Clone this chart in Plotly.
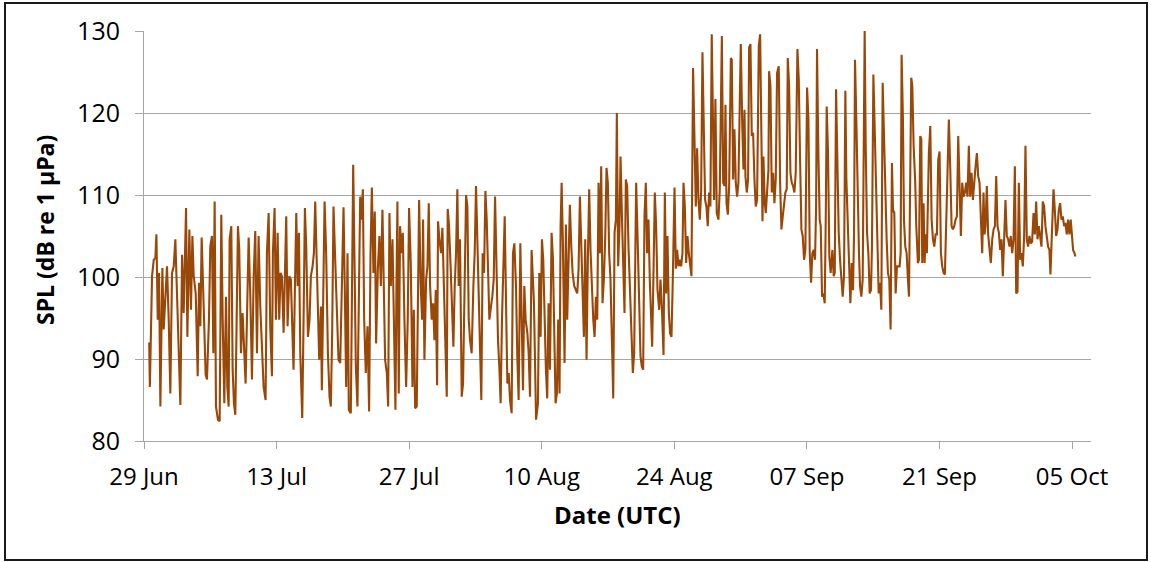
import pandas as pd
import plotly.graph_objects as go

# ---- data ----
start_date = "2013-06-29"
axis_days = 100            # axis span in days
tick_step_days = 14

# time of each sample, in days since 29 Jun 00:00 UTC
day_offset = [
    0.55, 0.62, 0.85, 1.03, 1.20, 1.31, 1.45, 1.59, 1.73, 1.94, 2.08, 2.26, 2.43, 2.61, 2.78, 2.96,
    3.14, 3.31, 3.49, 3.66, 3.84, 4.02, 4.19, 4.44, 4.58, 4.79, 4.96, 5.11, 5.25, 5.46, 5.67, 5.81,
    5.95, 6.09, 6.30, 6.51, 6.65, 6.86, 7.00, 7.18, 7.32, 7.46, 7.60, 7.81, 7.99, 8.16, 8.31, 8.48,
    8.66, 8.80, 8.94, 9.04, 9.22, 9.36, 9.50, 9.64, 9.78, 9.92, 10.06, 10.24, 10.41, 10.59, 10.73,
    10.87, 11.05, 11.22, 11.40, 11.58, 11.75, 11.93, 12.10, 12.28, 12.45, 12.63, 12.84, 12.98, 13.16,
    13.33, 13.51, 13.61, 13.79, 13.93, 14.11, 14.28, 14.42, 14.56, 14.74, 14.88, 15.02, 15.16, 15.34,
    15.51, 15.65, 15.79, 15.94, 16.08, 16.22, 16.36, 16.50, 16.71, 16.85, 16.99, 17.13, 17.31, 17.48,
    17.62, 17.80, 17.94, 18.08, 18.26, 18.50, 18.68, 18.78, 18.92, 19.07, 19.24, 19.42, 19.59, 19.73,
    19.87, 20.01, 20.19, 20.37, 20.54, 20.72,
    20.89, 21.07, 21.21, 21.35, 21.49, 21.63, 21.84, 21.98, 22.09, 22.23, 22.37, 22.54, 22.68, 22.83,
    22.97, 23.11, 23.25, 23.42, 23.60, 23.77, 23.92, 24.06, 24.23, 24.37, 24.51, 24.69, 24.86, 25.01,
    25.18, 25.32, 25.46, 25.64, 25.78, 25.92, 26.06, 26.24, 26.38, 26.55, 26.66, 26.76, 26.90, 27.04,
    27.19, 27.33, 27.50, 27.68, 27.85, 27.99, 28.17, 28.35, 28.49, 28.63, 28.80, 28.94, 29.05, 29.22,
    29.37, 29.47, 29.61, 29.79, 29.93, 30.07, 30.21, 30.38, 30.53, 30.67, 30.81, 30.95, 31.05, 31.19,
    31.37, 31.51, 31.65, 31.79, 31.97, 32.07, 32.21, 32.39, 32.53, 32.67, 32.81, 32.95, 33.09, 33.23,
    33.37, 33.55, 33.69, 33.83, 34.01, 34.15, 34.29, 34.43, 34.60, 34.78, 34.92, 35.06, 35.20, 35.34,
    35.48, 35.62, 35.76, 35.91, 36.05, 36.19, 36.33, 36.47, 36.64, 36.78, 36.93, 37.07, 37.24, 37.38,
    37.52, 37.66, 37.80, 37.94, 38.09, 38.23, 38.37, 38.51, 38.65, 38.82, 38.96, 39.11, 39.28, 39.42,
    39.56, 39.74, 39.88, 40.02, 40.16, 40.30, 40.48, 40.62, 40.76,
    40.93, 41.18, 41.40, 41.60, 41.74, 41.88, 42.02, 42.16, 42.30, 42.44, 42.58, 42.72, 42.87, 43.04,
    43.18, 43.32, 43.46, 43.60, 43.74, 43.88, 43.99, 44.10, 44.24, 44.41, 44.55, 44.69, 44.83, 44.97,
    45.12, 45.26, 45.43, 45.61, 45.75, 45.89, 46.03, 46.17, 46.31, 46.45, 46.59, 46.73, 46.87, 47.01,
    47.15, 47.30, 47.44, 47.58, 47.72, 47.86, 48.00, 48.14, 48.28, 48.42, 48.56, 48.70, 48.84, 48.98,
    49.12, 49.26, 49.44, 49.55, 49.69, 49.83, 49.93, 50.07, 50.21, 50.32, 50.46, 50.60, 50.74, 50.88,
    51.02, 51.16, 51.30, 51.48, 51.62, 51.76, 51.87, 51.97, 52.11, 52.29, 52.43, 52.57, 52.71, 52.85,
    52.99, 53.13, 53.27, 53.41, 53.55, 53.66, 53.80, 53.94, 54.08, 54.22, 54.40, 54.54, 54.71, 54.86,
    55.00, 55.14, 55.28, 55.42, 55.56, 55.70, 55.84, 56.02, 56.16, 56.30, 56.44, 56.58, 56.72, 56.86,
    56.97, 57.11, 57.25, 57.39, 57.53, 57.67, 57.81, 57.98, 58.13, 58.27, 58.41, 58.55, 58.69, 58.83,
    58.97, 59.11, 59.25, 59.39, 59.53, 59.67, 59.81, 59.95, 60.09, 60.20, 60.34, 60.48, 60.66, 60.80,
    61.02, 61.16, 61.30, 61.40, 61.51, 61.65, 61.79, 61.97, 62.07, 62.21, 62.35, 62.49, 62.63, 62.77,
    62.88, 63.02, 63.16, 63.30, 63.41, 63.51, 63.65, 63.79, 63.90, 64.04, 64.18, 64.32, 64.46, 64.60,
    64.74, 64.92, 65.06, 65.20, 65.31, 65.41, 65.55, 65.66, 65.80, 65.94, 66.01, 66.15, 66.29, 66.43,
    66.57, 66.71, 66.85, 67.03, 67.17, 67.31, 67.45, 67.59, 67.73, 67.87, 67.98, 68.12, 68.26, 68.40,
    68.54, 68.68, 68.82, 69.00, 69.14, 69.28, 69.42, 69.56, 69.70, 69.84, 70.02, 70.16, 70.30, 70.44,
    70.58, 70.72, 70.86, 70.97, 71.07, 71.21, 71.35, 71.46, 71.60, 71.74, 71.88, 71.99, 72.09, 72.23,
    72.37, 72.51, 72.69, 72.83, 72.94, 73.08, 73.22, 73.36, 73.50, 73.64, 73.78, 73.92, 74.06, 74.17,
    74.31, 74.45, 74.59, 74.73, 74.87, 74.98, 75.08, 75.22, 75.36, 75.50, 75.61, 75.75, 75.89, 76.10,
    76.21, 76.35, 76.49, 76.63, 76.77, 76.87, 77.02, 77.16, 77.30, 77.44, 77.58, 77.72, 77.86, 78.00,
    78.14, 78.28, 78.42, 78.56, 78.70, 78.84, 78.98, 79.09, 79.23, 79.37, 79.51, 79.65, 79.79, 79.90,
    80.00, 80.14, 80.25, 80.39, 80.53, 80.67, 80.78,
    81.02, 81.13, 81.27, 81.44, 81.55, 81.72, 81.83, 81.97, 82.08, 82.18, 82.32, 82.43, 82.53, 82.67,
    82.88, 83.03, 83.17, 83.31, 83.45, 83.59, 83.73, 83.87, 84.01, 84.15, 84.29, 84.43, 84.57, 84.71,
    84.85, 84.99, 85.14, 85.28, 85.42, 85.56, 85.70, 85.84, 85.98, 86.12, 86.26, 86.40, 86.54, 86.68,
    86.82, 86.96, 87.10, 87.24, 87.39, 87.53, 87.67, 87.81, 87.95, 88.09, 88.23, 88.37, 88.51, 88.65,
    88.76, 88.86, 89.00, 89.14, 89.28, 89.42, 89.57, 89.71, 89.85, 89.99, 90.13, 90.27, 90.41, 90.55,
    90.69, 90.83, 90.97, 91.11, 91.25, 91.39, 91.53, 91.68, 91.82, 91.96, 92.10, 92.24, 92.38, 92.52,
    92.66, 92.80, 92.94, 93.08, 93.22, 93.36, 93.50, 93.64, 93.78, 93.93, 94.07, 94.21, 94.35, 94.49,
    94.63, 94.77, 94.91, 95.05, 95.19, 95.33, 95.47, 95.61, 95.72, 95.82, 95.93, 96.04, 96.18, 96.32,
    96.46, 96.60, 96.74, 96.88, 97.02, 97.16, 97.30, 97.44, 97.58, 97.72, 97.86, 98.00, 98.11, 98.25,
    98.36,
]

# sound pressure level, dB re 1 µPa
spl_db = [
    92.0, 86.6, 100.1, 102.1, 102.3, 105.2, 94.8, 100.5, 84.2, 101.1, 93.6, 98.0, 101.3, 94.8, 85.8, 100.5,
    101.3, 104.6, 98.0, 93.6, 84.4, 102.7, 95.6, 108.4, 92.7, 105.8, 96.0, 105.0, 100.1, 98.0, 87.9, 99.3,
    94.0, 104.8, 95.6, 88.1, 87.5, 94.8, 103.7, 105.0, 90.7, 109.2, 84.2, 82.6, 82.4, 107.6, 94.8, 84.6,
    97.6, 86.6, 84.2, 104.6, 106.2, 88.7, 84.6, 83.2, 94.4, 106.2, 103.3, 90.7, 95.6, 89.5, 87.0,
    94.8, 104.8, 98.0, 87.5, 100.1, 105.6, 90.7, 105.0, 96.4, 92.3, 86.6, 85.0, 102.9, 107.8,
    94.0, 87.9, 102.9, 108.4, 94.8, 105.4, 94.8, 100.5, 100.1, 93.2, 101.7, 107.4, 94.0, 100.1,
    99.7, 94.8, 88.7, 98.9, 107.8, 98.9, 105.4, 90.7, 82.8, 94.8, 108.4, 103.7, 92.7, 94.8,
    100.1, 101.3, 102.9, 109.2, 100.9, 89.9, 96.4, 86.2, 97.2, 109.2, 102.7, 90.7, 85.4, 84.2,
    93.2, 108.6, 102.1, 94.8, 89.9, 89.5,
    100.9, 108.5, 98.0, 86.6, 102.9, 83.8, 83.4, 100.5, 113.7, 102.1, 89.1, 84.2, 98.0, 109.8,
    107.0, 110.7, 94.8, 88.3, 94.0, 83.6, 102.9, 110.9, 100.5, 108.0, 91.9, 100.9, 105.0, 98.9,
    108.2, 96.0, 89.9, 88.3, 84.2, 107.8, 98.9, 104.6, 94.8, 83.8, 98.9, 109.2, 85.8, 106.2,
    102.9, 105.4, 94.8, 86.6, 94.8, 108.4, 101.7, 86.6, 96.0, 84.0, 84.2, 97.2, 109.4, 98.9,
    94.8, 107.0, 89.9, 99.7, 101.3, 109.0, 98.9, 94.8, 96.8, 92.3, 98.4, 86.8, 106.8, 104.6,
    102.9, 106.0, 100.5, 92.3, 85.4, 108.3, 106.2, 100.9, 96.8, 91.5, 98.9, 102.9, 110.7, 98.9,
    104.6, 85.4, 87.0, 96.8, 110.0, 108.6, 94.8, 92.3, 90.7, 98.9, 102.9, 111.1, 103.7, 99.7,
    92.7, 85.0, 102.9, 100.5, 110.5, 107.0, 100.9, 94.8, 96.4, 97.6, 99.7, 109.8, 100.5, 92.3,
    89.1, 84.6, 94.8, 100.1, 107.4, 96.8, 87.0, 88.3, 85.0, 83.4, 102.9, 104.1, 98.9, 90.3,
    85.0, 104.1, 95.6, 86.2, 98.9, 94.8, 93.2, 90.7, 85.4,
    103.3, 96.8, 82.6, 84.6, 100.5, 92.7, 104.6, 102.1, 94.8, 88.7, 85.2, 96.8, 88.7, 105.4,
    102.3, 90.7, 84.6, 85.8, 94.8, 85.8, 106.2, 111.5, 103.7, 89.5, 106.4, 94.8, 102.5, 108.8,
    103.7, 100.5, 98.9, 98.5, 98.0, 101.0, 109.8, 104.1, 96.8, 92.7, 104.6, 89.9, 102.1, 110.7,
    103.3, 98.0, 94.8, 92.7, 97.6, 94.8, 111.5, 102.9, 113.5, 96.8, 99.7, 104.6, 113.3, 111.5,
    102.9, 99.7, 89.9, 85.2, 105.4, 107.0, 120.0, 101.3, 106.2, 114.7, 107.8, 101.3, 95.6, 111.9,
    111.1, 103.7, 98.9, 94.0, 88.3, 90.7, 102.9, 111.5, 105.4, 96.0, 90.3, 89.1, 88.7, 107.4,
    111.5, 102.9, 107.0, 99.7, 94.8, 91.5, 100.5, 110.3, 106.2, 98.5, 96.0, 99.7, 95.6, 90.5,
    110.3, 98.0, 105.0, 95.6, 93.1, 92.7, 99.7, 110.9, 101.0, 103.3, 101.3, 102.1, 101.3, 102.9,
    111.5, 108.6, 101.7, 105.0, 102.9, 101.0, 100.1, 125.5, 115.5, 108.6, 115.7, 109.4, 107.0, 110.3,
    127.4, 119.2, 109.4, 108.6, 106.2, 110.3, 108.6, 129.6, 118.0, 109.4, 121.7, 107.8, 107.0, 110.7,
    129.4, 111.5, 111.1, 121.0, 109.0, 107.6, 111.1, 126.7, 126.5, 111.9, 118.0, 111.5, 109.8, 111.5,
    119.2, 128.4, 119.2, 113.1, 120.4, 112.3, 110.3, 111.9, 128.0, 128.4, 117.2, 117.6, 111.9, 108.6,
    109.4, 128.2, 129.6, 115.1, 106.8, 114.7, 109.0, 107.8, 111.5, 113.1, 125.1, 123.3, 110.3, 112.7,
    109.0, 111.9, 124.9, 125.7, 111.5, 105.8, 107.4, 109.0, 110.3, 110.7, 126.7, 123.3, 112.7, 111.5,
    111.1, 110.3, 112.7, 127.8, 124.1, 114.3, 105.8, 105.0, 102.1, 103.3, 123.1, 119.2, 102.9, 99.3,
    102.9, 103.3, 102.1, 108.6, 127.8, 115.1, 107.0, 106.2, 97.6, 98.0, 96.8, 107.0, 120.8, 115.1,
    102.5, 100.5, 103.3, 100.1, 100.5, 122.9, 115.1, 105.4, 102.1, 99.7, 97.6, 100.1, 122.7, 111.9,
    106.6, 103.3, 96.8, 101.7, 98.4, 105.4, 126.5, 119.2, 109.8, 102.9, 98.9, 97.6, 99.7, 130.0,
    116.0, 105.4, 102.9, 98.0, 98.4, 103.7, 124.7, 118.0, 110.3, 105.4, 98.0, 99.3, 96.0, 123.7,
    117.6, 108.2, 104.6, 100.5, 99.7, 93.6, 113.9, 108.2, 107.8, 98.0, 101.3, 101.3, 101.3, 102.9,
    127.1, 119.2, 107.0, 103.7, 102.9, 99.7, 97.6,
    124.3, 123.3, 116.0, 111.5, 106.2, 101.7, 102.1, 117.2, 116.8, 101.7, 109.0, 101.7, 105.2, 102.9,
    115.1, 118.4, 107.0, 104.6, 103.7, 105.2, 105.2, 114.3, 115.3, 102.9, 101.3, 100.5, 100.3, 105.8,
    114.3, 119.2, 113.1, 106.2, 105.8, 106.2, 107.0, 107.4, 117.2, 111.9, 105.0, 111.5, 109.8, 110.3,
    111.5, 109.8, 116.0, 109.8, 112.7, 109.4, 111.9, 113.5, 115.1, 112.3, 111.5, 106.6, 102.9, 110.3,
    105.2, 106.2, 111.1, 105.2, 103.3, 101.7, 104.6, 105.8, 106.2, 112.3, 106.2, 105.4, 103.3, 104.6,
    100.1, 104.6, 109.4, 105.0, 104.6, 103.7, 105.0, 102.9, 104.6, 113.5, 98.0, 98.2, 111.5, 102.1,
    102.9, 101.3, 105.0, 116.0, 104.6, 103.7, 105.0, 104.1, 104.3, 107.8, 105.2, 109.2, 104.6, 106.2,
    105.0, 103.7, 109.2, 108.6, 106.2, 105.0, 103.7, 103.3, 100.3, 103.7, 108.6, 110.7, 108.2, 105.0,
    105.8, 108.2, 109.0, 107.0, 107.4, 106.2, 106.6, 105.2, 107.0, 105.2, 107.0, 105.2, 103.3, 102.9,
    102.5,
]

y_ticks = [80, 90, 100, 110, 120, 130]

# ---- figure ----
t0 = pd.Timestamp(start_date)
times = t0 + pd.to_timedelta(day_offset, unit="D")

fig = go.Figure(
    go.Scatter(
        x=times, y=spl_db, mode="lines",
        line=dict(color="#9A4808", width=2.1),
        hoverinfo="x+y",
    )
)

W, H = 1151, 562
L, R, T, B = 144, 60, 31, 121
pw, ph = W - L - R, H - T - B

def px_x(p):
    return (p - L) / pw

def px_y(p):
    return (H - B - p) / ph

font_family = "Open Sans, Lato, DejaVu Sans, sans-serif"
axis_grey = "#a6a6a6"

fig.update_layout(
    width=W, height=H,
    margin=dict(l=L, r=R, t=T, b=B, pad=0),
    paper_bgcolor="white", plot_bgcolor="white",
    showlegend=False,
    font=dict(family=font_family, color="black"),
    xaxis=dict(
        type="date",
        range=[t0, t0 + pd.Timedelta(days=axis_days)],
        tick0=t0, dtick=tick_step_days * 86400000,
        tickformat="%d %b",
        ticks="outside", ticklen=7, tickcolor=axis_grey, tickwidth=1,
        showline=True, linecolor=axis_grey, linewidth=1,
        showgrid=False, zeroline=False,
        tickfont=dict(size=24, family=font_family, color="black"),
        ticklabelstandoff=7,
    ),
    yaxis=dict(
        range=[80, 130], tickvals=y_ticks,
        ticks="outside", ticklen=8, tickcolor=axis_grey, tickwidth=1,
        showline=True, linecolor=axis_grey, linewidth=1,
        showgrid=True, gridcolor=axis_grey, gridwidth=1,
        zeroline=False,
        tickfont=dict(size=25, family=font_family, color="black"),
        ticklabelstandoff=10,
    ),
    annotations=[
        dict(text="<b>Date (UTC)</b>", xref="paper", yref="paper",
             x=px_x(617), y=px_y(514), xanchor="center", yanchor="middle",
             showarrow=False, font=dict(size=24, family=font_family, color="black")),
        dict(text="<b>SPL (dB re 1 µPa)</b>", xref="paper", yref="paper",
             x=px_x(45), y=px_y(230), xanchor="center", yanchor="middle",
             textangle=-90, showarrow=False,
             font=dict(size=23, family=font_family, color="black")),
    ],
    shapes=[
        dict(type="rect", xref="paper", yref="paper",
             x0=px_x(5), x1=px_x(1147), y0=px_y(560), y1=px_y(3),
             line=dict(color="#1a1a1a", width=2), fillcolor="rgba(0,0,0,0)",
             layer="above"),
    ],
)

fig.write_html("out.html")
